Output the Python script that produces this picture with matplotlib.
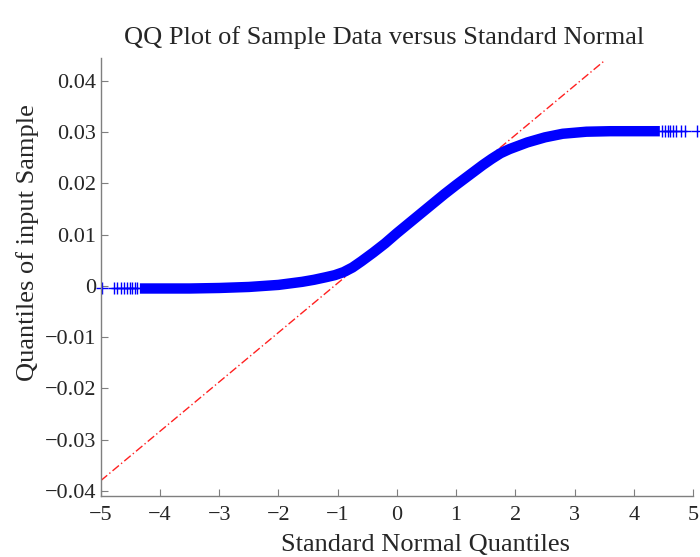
import matplotlib
matplotlib.use('Agg')
import matplotlib.pyplot as plt

# quantiles (standard normal quantile, sample quantile)
band_x = [-4.34, -4.0, -3.5, -3.0, -2.5, -2.0, -1.6, -1.4, -1.2, -1.05, -0.9, -0.75, -0.6,
          -0.4, -0.2, 0.0, 0.2, 0.4, 0.6, 0.8, 1.0, 1.3, 1.45, 1.6, 1.75, 1.9, 2.2, 2.5,
          2.8, 3.2, 3.6, 4.0, 4.44]
band_y = [-0.0005, -0.0005, -0.0005, -0.0004, -0.0002, 0.0002, 0.0008, 0.0012, 0.0017,
          0.0021, 0.0027, 0.0036, 0.0048, 0.0065, 0.0083, 0.0103, 0.0122, 0.0141, 0.0160,
          0.0179, 0.0197, 0.0223, 0.0236, 0.0248, 0.0259, 0.0267, 0.0280, 0.0290, 0.0297,
          0.0301, 0.0302, 0.0302, 0.0302]

# sparse tail points
left_x = [-4.98, -4.78, -4.72, -4.66, -4.61, -4.56, -4.51, -4.47, -4.43, -4.39]
left_y = [-0.0005] * len(left_x)
right_x = [4.48, 4.52, 4.57, 4.62, 4.67, 4.72, 4.79, 4.87, 5.07]
right_y = [0.0302] * len(right_x)

# reference line end points
ref_x = [-5.0, 3.52]
ref_y = [-0.038, 0.0441]

xticks = [-5, -4, -3, -2, -1, 0, 1, 2, 3, 4, 5]
yticks = [-0.04, -0.03, -0.02, -0.01, 0, 0.01, 0.02, 0.03, 0.04]
ytick_labels = ['\u22120.04', '\u22120.03', '\u22120.02', '\u22120.01', '0',
                '0.01', '0.02', '0.03', '0.04']
xtick_labels = ['\u22125', '\u22124', '\u22123', '\u22122', '\u22121', '0',
                '1', '2', '3', '4', '5']

plt.rcParams['font.family'] = 'Liberation Serif'
txt = '#262626'
grey = '#7f7f7f'

fig = plt.figure(figsize=(7, 5.57), dpi=100)
ax = fig.add_axes([0.144, 0.1095, 0.846, 0.7865])

ax.plot(ref_x, ref_y, color='#ff2020', lw=1.0, ls='-.', dashes=(6, 2, 1, 2))
ax.plot(band_x, band_y, color='#0000ff', lw=7.5, solid_capstyle='butt', solid_joinstyle='round')
ax.plot(left_x, left_y, ls='none', marker='+', ms=9, mew=1.0, color='#0000ff', clip_on=False)
ax.plot(right_x, right_y, ls='none', marker='+', ms=9, mew=1.0, color='#0000ff', clip_on=False)

ax.set_xlim(-5, 5)
ax.set_ylim(-0.041, 0.0445)
ax.set_xticks(xticks)
ax.set_xticklabels(xtick_labels)
ax.set_yticks(yticks)
ax.set_yticklabels(ytick_labels)

for s in ['top', 'right']:
    ax.spines[s].set_visible(False)
for s in ['left', 'bottom']:
    ax.spines[s].set_color(grey)
    ax.spines[s].set_linewidth(1.0)
ax.tick_params(direction='in', length=5, color=grey, labelsize=16, labelcolor=txt)
ax.tick_params(axis='x', pad=7)

fig.text(0.549, 1 - 38 / 557, 'QQ Plot of Sample Data versus Standard Normal',
         fontsize=19, color=txt, ha='center', va='center')
ax.set_xlabel('Standard Normal Quantiles', fontsize=19, color=txt, va='center')
ax.xaxis.set_label_coords(0.549, -0.112)
ax.set_ylabel('Quantiles of input Sample', fontsize=19, color=txt)
ax.yaxis.set_label_coords(-0.105, 0.578)

fig.savefig('out.png', dpi=100)
